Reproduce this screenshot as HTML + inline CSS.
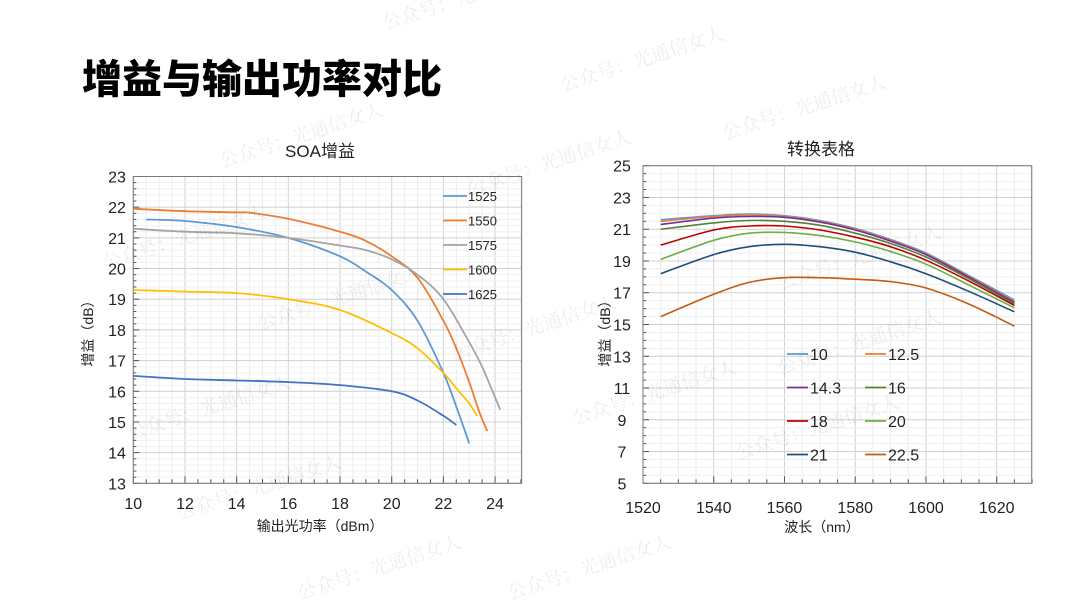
<!DOCTYPE html>
<html><head><meta charset="utf-8"><style>
html,body{margin:0;padding:0;background:#fff;}
body{width:1080px;height:607px;overflow:hidden;position:relative;font-family:"Liberation Sans","Noto Sans CJK SC",sans-serif;}
.t{position:absolute;left:82px;top:47px;font-size:40px;font-weight:900;color:#000;letter-spacing:0px;font-family:"Noto Sans CJK SC",sans-serif;}
svg{position:absolute;left:0;top:0;}
</style></head><body>
<div class="t">增益与输出功率对比</div>
<svg id="s" width="1080" height="607" font-family="Liberation Sans, Noto Sans CJK SC, sans-serif"></svg>
<script>
const s=document.getElementById('s');let h='';
function cr(p){let d='M'+p[0][0].toFixed(1)+','+p[0][1].toFixed(1);for(let i=0;i<p.length-1;i++){const a=p[i-1]||p[i],b=p[i],c=p[i+1],e=p[i+2]||c;const t=6;d+=' C'+(b[0]+(c[0]-a[0])/t).toFixed(1)+','+(b[1]+(c[1]-a[1])/t).toFixed(1)+' '+(c[0]-(e[0]-b[0])/t).toFixed(1)+','+(c[1]-(e[1]-b[1])/t).toFixed(1)+' '+c[0].toFixed(1)+','+c[1].toFixed(1);}return d;}
// left chart
const L={x0:133.3,x1:521.7,y0:176.5,y1:483.3};
const lx=v=>133.3+(v-10)*25.84, ly=v=>483.3-(v-13)*30.68;
for(let v=10;v<=25.01;v+=0.5){const x=lx(v);h+=`<line x1="${x}" y1="${L.y0}" x2="${x}" y2="${L.y1}" stroke="${Math.abs(v%2)<.01?'#d0d0d0':'#ececec'}" stroke-width="1"/>`;}
for(let v=13;v<=23.01;v+=0.2){const y=ly(v);const m=Math.abs(v-Math.round(v))<.01;h+=`<line x1="${L.x0}" y1="${y}" x2="${L.x1}" y2="${y}" stroke="${m?'#d0d0d0':'#f0f0f0'}"/>`;h+=`<line x1="${L.x0}" y1="${y}" x2="${L.x0+(m?6:3)}" y2="${y}" stroke="#555"/>`;}
for(let v=10;v<=25.01;v+=0.5){const x=lx(v);const m=Math.abs(v%2)<.01;h+=`<line x1="${x}" y1="${L.y1}" x2="${x}" y2="${L.y1-(m?7:4)}" stroke="#555"/>`;}
h+=`<rect x="${L.x0}" y="${L.y0}" width="${L.x1-L.x0}" height="${L.y1-L.y0}" fill="none" stroke="#777"/>`;
for(let v=13;v<=23;v++)h+=`<text x="117" y="${ly(v)+6}" font-size="16" text-anchor="middle" fill="#222">${v}</text>`;
for(let v=10;v<=24;v+=2)h+=`<text x="${lx(v)}" y="509" font-size="16" text-anchor="middle" fill="#222">${v}</text>`;
h+=`<text x="320" y="157" font-size="17" text-anchor="middle" fill="#222">SOA增益</text>`;
h+=`<text x="320" y="531" font-size="14" text-anchor="middle" fill="#222">输出光功率（dBm）</text>`;
h+=`<text transform="translate(93,330) rotate(-90)" font-size="14" text-anchor="middle" fill="#222">增益（dB）</text>`;
const ls=[['1525','#5B9BD5',[[10.5,21.6],[12,21.55],[14,21.35],[16,21.0],[18,20.4],[19,19.9],[20,19.3],[21,18.3],[22,16.6],[22.5,15.5],[23,14.3]]],
['1550','#ED7D31',[[10,21.95],[12,21.87],[14,21.83],[14.5,21.82],[16,21.62],[18,21.2],[19,20.9],[20,20.4],[21,19.7],[22,18.3],[22.5,17.4],[23,16.3],[23.4,15.3],[23.7,14.7]]],
['1575','#A5A5A5',[[10,21.3],[12,21.2],[14,21.15],[16,21.0],[18,20.75],[19,20.6],[20,20.3],[21,19.8],[22,19.0],[23,17.6],[23.5,16.8],[24,15.8],[24.2,15.4]]],
['1600','#FFC000',[[10,19.3],[12,19.25],[14,19.2],[16,19.0],[18,18.65],[20,17.9],[21,17.4],[22,16.6],[22.5,16.1],[23,15.6],[23.3,15.2]]],
['1625','#4472C4',[[10,16.5],[12,16.4],[14,16.35],[16,16.3],[18,16.2],[20,16.0],[21,15.7],[22,15.2],[22.5,14.9]]]];
ls.forEach((c,i)=>{h+=`<path d="${cr(c[2].map(p=>[lx(p[0]),ly(p[1])]))}" fill="none" stroke="${c[1]}" stroke-width="1.8"/>`;const y=196+i*24.5;h+=`<line x1="443" y1="${y}" x2="467" y2="${y}" stroke="${c[1]}" stroke-width="1.8"/><text x="468" y="${y+5}" font-size="13" fill="#222">${c[0]}</text>`;});
// right chart
const R={x0:643,x1:1031.7,y0:165.7,y1:483.3};
const rx=v=>643+(v-1520)*3.537, ry=v=>483.3-(v-5)*15.88;
for(let v=1520;v<=1630.01;v+=5){const x=rx(v);h+=`<line x1="${x}" y1="${R.y0}" x2="${x}" y2="${R.y1}" stroke="${v%20==0?'#d0d0d0':'#ececec'}"/><line x1="${x}" y1="${R.y1}" x2="${x}" y2="${R.y1-(v%20==0?7:4)}" stroke="#555"/>`;}
for(let v=5;v<=25.01;v+=0.5){const y=ry(v);const m=Math.abs(v-Math.round(v))<.01&&Math.round(v)%2==1;h+=`<line x1="${R.x0}" y1="${y}" x2="${R.x1}" y2="${y}" stroke="${m?'#d0d0d0':'#efefef'}"/><line x1="${R.x0}" y1="${y}" x2="${R.x0+(m?6:3)}" y2="${y}" stroke="#555"/>`;}
h+=`<rect x="${R.x0}" y="${R.y0}" width="${R.x1-R.x0}" height="${R.y1-R.y0}" fill="none" stroke="#777"/>`;
for(let v=5;v<=25;v+=2)h+=`<text x="622" y="${ry(v)+6}" font-size="16" text-anchor="middle" fill="#222">${v}</text>`;
for(let v=1520;v<=1620;v+=20)h+=`<text x="${rx(v)}" y="513" font-size="16" text-anchor="middle" fill="#222">${v}</text>`;
h+=`<text x="821" y="155" font-size="17" text-anchor="middle" fill="#222">转换表格</text>`;
h+=`<text x="822" y="532" font-size="14" text-anchor="middle" fill="#222">波长（nm）</text>`;
h+=`<text transform="translate(610,330) rotate(-90)" font-size="14" text-anchor="middle" fill="#222">增益（dB）</text>`;
const X=[1525,1540,1550,1560,1570,1580,1590,1600,1612,1625];
const rs=[['10','#5B9BD5',[21.6,21.85,21.95,21.85,21.55,21.05,20.35,19.5,18.1,16.55]],
['12.5','#ED7D31',[21.5,21.8,21.9,21.8,21.5,21.0,20.3,19.45,18.05,16.45]],
['14.3','#7030A0',[21.3,21.7,21.8,21.75,21.45,20.95,20.25,19.4,18.0,16.4]],
['16','#548235',[21.0,21.4,21.55,21.5,21.25,20.75,20.1,19.25,17.9,16.3]],
['18','#C00000',[20.0,20.95,21.2,21.2,20.95,20.5,19.9,19.05,17.75,16.2]],
['20','#70AD47',[19.1,20.3,20.75,20.8,20.6,20.2,19.6,18.8,17.5,16.05]],
['21','#1F4E79',[18.2,19.4,19.9,20.05,19.9,19.55,18.95,18.2,17.1,15.8]],
['22.5','#C55A11',[15.5,16.9,17.65,17.95,17.95,17.85,17.7,17.3,16.3,14.9]]];
rs.forEach((c,i)=>{h+=`<path d="${cr(X.map((x,j)=>[rx(x),ry(c[2][j])]))}" fill="none" stroke="${c[1]}" stroke-width="1.6"/>`;const col=i%2,row=Math.floor(i/2);const x=col?865:787,y=354+row*33.5;h+=`<line x1="${x}" y1="${y}" x2="${x+21}" y2="${y}" stroke="${c[1]}" stroke-width="1.8"/><text x="${x+23}" y="${y+6}" font-size="16" fill="#222">${c[0]}</text>`;});
// watermarks
[[385,30],[563,92],[725,140],[222,168],[470,195],[105,270],[780,290],[260,330],[455,360],[780,375],[130,440],[575,425],[180,520],[738,460],[300,600],[510,600]].forEach(p=>{h+=`<text transform="translate(${p[0]},${p[1]}) rotate(-18)" font-size="19" fill="#000" fill-opacity="0.07" font-family="Noto Serif CJK SC, serif">公众号：光通信女人</text>`;});
s.innerHTML=h;
</script>
</body></html>
